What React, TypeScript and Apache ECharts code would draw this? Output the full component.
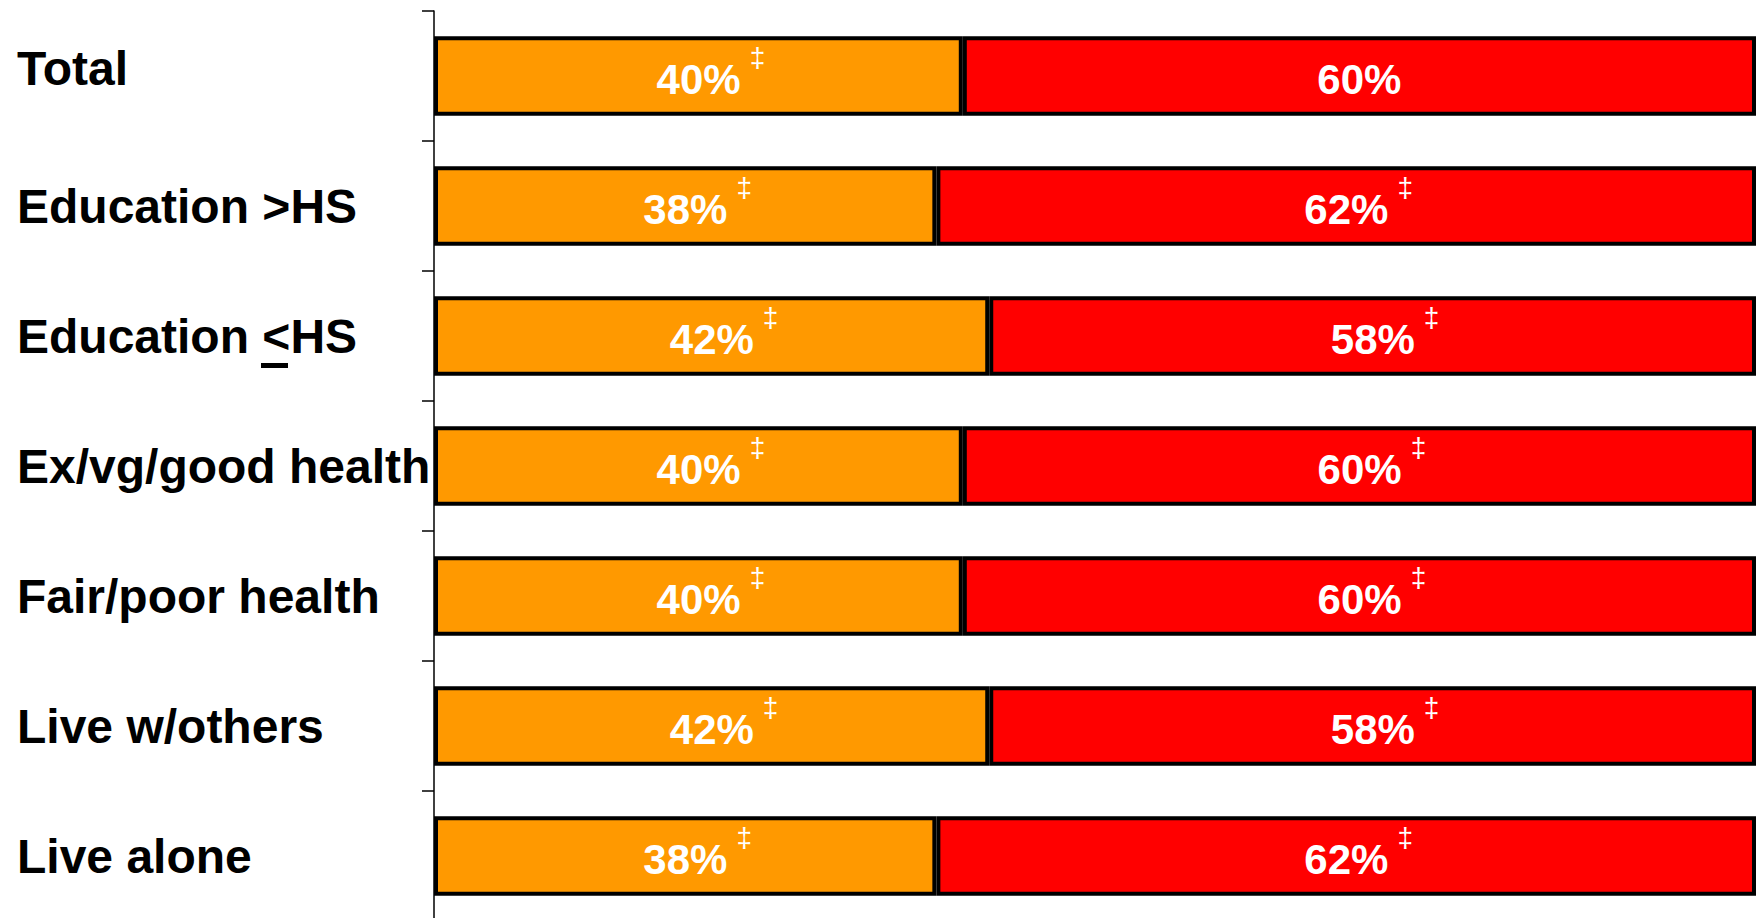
import React, { useEffect, useRef } from "react";
import * as echarts from "echarts";

const categories = [
  "Total",
  "Education >HS",
  "Education <HS",
  "Ex/vg/good health",
  "Fair/poor health",
  "Live w/others",
  "Live alone",
];
const orangeValues = [40, 38, 42, 40, 40, 42, 38];
const redValues = [60, 62, 58, 60, 60, 58, 62];
const orangeMarked = [true, true, true, true, true, true, true];
const redMarked = [false, true, true, true, true, true, true];

const FONT = "'Liberation Sans', Arial, Helvetica, sans-serif";

function richLabel(marks: boolean[]) {
  return {
    show: true,
    position: "inside",
    offset: [0, 3],
    formatter: (p: any) =>
      marks[p.dataIndex] ? `{p|}{v|${p.value}%}{s|‡}` : `{v|${p.value}%}`,
    rich: {
      v: {
        fontSize: 42,
        fontWeight: "bold",
        color: "#ffffff",
        fontFamily: FONT,
        lineHeight: 72,
        verticalAlign: "middle",
      },
      s: {
        fontSize: 28,
        color: "#ffffff",
        fontFamily: FONT,
        lineHeight: 30,
        verticalAlign: "top",
        padding: [0, 0, 0, 9],
      },
      p: {
        width: 25,
        lineHeight: 30,
        verticalAlign: "top",
      },
    },
  };
}

export default function App() {
  const ref = useRef<HTMLDivElement>(null);
  useEffect(() => {
    if (!ref.current) return;
    const chart = echarts.init(ref.current, null, { renderer: "svg" });
    chart.setOption({
      animation: false,
      backgroundColor: "#ffffff",
      grid: {
        left: 434,
        right: 2,
        top: 11,
        height: 910,
        containLabel: false,
        outerBoundsMode: "none",
      },
      xAxis: { type: "value", min: 0, max: 100, show: false },
      yAxis: {
        type: "category",
        inverse: true,
        data: categories,
        axisLine: { show: true, lineStyle: { color: "#000", width: 1.5 } },
        axisTick: { show: true, length: 12, lineStyle: { color: "#000", width: 1.5 } },
        axisLabel: {
          align: "left",
          margin: 417,
          color: "#000",
          fontSize: 48,
          fontWeight: "bold",
          fontFamily: FONT,
          formatter: (v: string) => (v === categories[0] ? `{t|${v}}` : v),
          rich: {
            t: {
              color: "#000",
              fontSize: 48,
              fontWeight: "bold",
              fontFamily: FONT,
              padding: [0, 0, 16, 0],
            },
          },
        },
      },
      series: [
        {
          type: "bar",
          stack: "a",
          data: orangeValues,
          barCategoryGap: "39%",
          itemStyle: { color: "#FF9900", borderColor: "#000", borderWidth: 4 },
          label: richLabel(orangeMarked),
        },
        {
          type: "bar",
          stack: "a",
          data: redValues,
          barCategoryGap: "39%",
          itemStyle: { color: "#FF0000", borderColor: "#000", borderWidth: 4 },
          label: richLabel(redMarked),
        },
      ],
      graphic: [
        { type: "rect", shape: { x: 261, y: 363, width: 27, height: 5 }, style: { fill: "#000" } },
      ],
    });
    return () => chart.dispose();
  }, []);
  return (
    <div
      ref={ref}
      style={{ position: "fixed", left: 0, top: 0, width: 1758, height: 918, background: "#fff" }}
    />
  );
}
